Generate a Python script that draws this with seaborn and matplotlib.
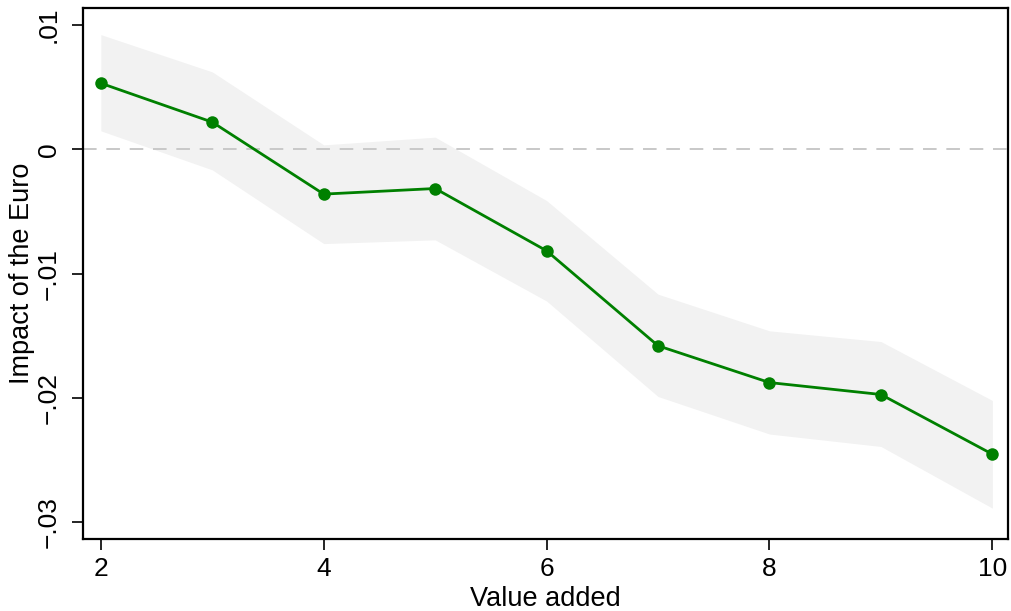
import pandas as pd
import seaborn as sns
import matplotlib.pyplot as plt

# values
value_added = [2, 3, 4, 5, 6, 7, 8, 9, 10]
impact = [0.00532, 0.00219, -0.0036, -0.00315, -0.00816, -0.0158, -0.01876, -0.01972, -0.02452]
ci_upper = [0.00923, 0.00623, 0.00036, 0.00098, -0.00412, -0.01165, -0.0146, -0.01546, -0.0202]
ci_lower = [0.00149, -0.00165, -0.00758, -0.00728, -0.0122, -0.01988, -0.0229, -0.0239, -0.02886]
y_ticks = [-0.03, -0.02, -0.01, 0, 0.01]
y_tick_labels = ['\u2212.03', '\u2212.02', '\u2212.01', '0', '.01']
x_ticks = [2, 4, 6, 8, 10]

df = pd.DataFrame({'Value added': value_added, 'Impact': impact,
                   'lo': ci_lower, 'hi': ci_upper})

sns.set_style('white')
plt.rcParams['font.family'] = ['Liberation Sans', 'DejaVu Sans']
plt.rcParams['text.color'] = 'black'
plt.rcParams['axes.labelcolor'] = 'black'
plt.rcParams['xtick.color'] = 'black'
plt.rcParams['ytick.color'] = 'black'

fig = plt.figure(figsize=(10.11, 6.11), dpi=100)
ax = fig.add_axes([0.0821, 0.1173, 0.9149, 0.8696])

# confidence band
ax.fill_between(df['Value added'], df['lo'], df['hi'], color='#f2f2f2', linewidth=0, zorder=1)
# zero reference line
ax.axhline(0, color='#c8c8c8', linestyle=(0, (7, 5)), linewidth=1.4, zorder=2)
# estimates
sns.lineplot(data=df, x='Value added', y='Impact', color='#008000', linewidth=2,
             marker='o', markersize=9, markeredgewidth=0, ax=ax, zorder=3)

ax.set_xlim(1.84, 10.14)
ax.set_ylim(-0.03137, 0.01137)
ax.set_xticks(x_ticks)
ax.set_xticklabels([str(t) for t in x_ticks], fontsize=19)
ax.set_yticks(y_ticks)
ax.set_yticklabels(y_tick_labels, fontsize=19, rotation=90, va='center')

ax.tick_params(axis='both', direction='out', length=8, width=1.2, colors='black',
               left=True, bottom=True)
ax.tick_params(axis='y', pad=8)
ax.tick_params(axis='x', pad=5)
for s in ax.spines.values():
    s.set_color('black')
    s.set_linewidth(1.6)

ax.set_xlabel('Value added', fontsize=19.5, labelpad=3)
ax.set_ylabel('Impact of the Euro', fontsize=19.5, labelpad=1)

fig.savefig('out.png', dpi=100)
